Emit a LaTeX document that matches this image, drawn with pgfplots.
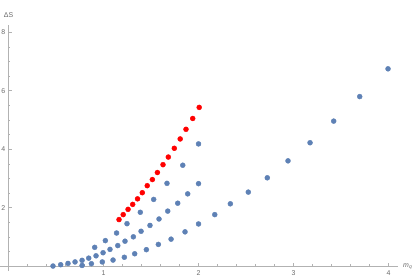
\documentclass[border=0pt]{standalone}
\usepackage{fontspec}
\setmainfont{Liberation Sans}
\usepackage{pgfplots}
\pgfplotsset{compat=1.18}
\definecolor{mblue}{rgb}{0.368417,0.506779,0.709798}
\definecolor{axgray}{gray}{0.70}
\definecolor{lblgray}{gray}{0.42}
\begin{document}
\begin{tikzpicture}
\begin{axis}[
  width=398bp, height=246bp, scale only axis,
  xmin=-0.09, xmax=4.10, ymin=-0.17, ymax=8.25,
  axis lines=middle,
  axis line style={axgray, line width=0.6pt, -},
  xtick={1,2,3,4}, ytick={2,4,6,8},
  minor xtick={0.2,0.4,0.6,0.8,1.2,1.4,1.6,1.8,2.2,2.4,2.6,2.8,3.2,3.4,3.6,3.8},
  minor ytick={0.5,1,1.5,2.5,3,3.5,4.5,5,5.5,6.5,7,7.5},
  tick align=inside,
  major tick length=3bp, minor tick length=1.8bp,
  every tick/.style={axgray, line width=0.5pt},
  /pgf/number format/assume math mode=true,
  ticklabel style={font=\fontsize{7}{8}\selectfont, text=lblgray},
  xticklabel style={anchor=north, inner sep=0pt, yshift=-4bp},
  yticklabel style={anchor=east, inner sep=0pt, xshift=-3bp},
  clip=false,
  every axis plot/.append style={only marks, mark=*},
]
% steep blue branch
\addplot[mblue, mark options={fill=mblue, draw=mblue}, mark size=2.5pt] coordinates {
(0.907,0.64) (1.019,0.87) (1.137,1.13) (1.247,1.45) (1.387,1.84)
(1.528,2.28) (1.668,2.83) (1.834,3.45) (2.0,4.18)
};
% middle blue branch
\addplot[mblue, mark options={fill=mblue, draw=mblue}, mark size=2.5pt] coordinates {
(0.468,0.00) (0.549,0.045) (0.626,0.09) (0.700,0.14) (0.774,0.195)
(0.844,0.27) (0.921,0.35) (0.995,0.455) (1.068,0.57) (1.150,0.70)
(1.226,0.85) (1.314,1.00) (1.395,1.19) (1.489,1.39) (1.584,1.61)
(1.676,1.88) (1.781,2.15) (1.886,2.47) (2.0,2.82)
};
% low blue branch
\addplot[mblue, mark options={fill=mblue, draw=mblue}, mark size=2.5pt] coordinates {
(0.774,0.02) (0.872,0.08) (0.987,0.14) (1.100,0.205) (1.219,0.30)
(1.328,0.42) (1.451,0.56) (1.577,0.74) (1.711,0.92) (1.858,1.17)
(2.0,1.44) (2.171,1.76) (2.335,2.13) (2.524,2.53) (2.724,3.02)
(2.942,3.60) (3.174,4.22) (3.423,4.96) (3.697,5.80) (3.995,6.75)
};
% red series
\addplot[red, mark options={fill=red, draw=red}, mark size=2.5pt] coordinates {
(1.163,1.59) (1.207,1.76) (1.258,1.94) (1.307,2.11) (1.358,2.30)
(1.408,2.51) (1.460,2.75) (1.514,2.96) (1.567,3.20) (1.626,3.47)
(1.682,3.73) (1.745,4.03) (1.807,4.35) (1.868,4.68) (1.939,5.05)
(2.007,5.43)
};
\node[anchor=base west, inner sep=0pt, text=lblgray, font=\fontsize{7}{8}\selectfont, xshift=5bp, yshift=-1.5bp] at (axis cs:4.10,0) {\textit{m}\textsubscript{\textit{q}}};
\node[anchor=base, inner sep=0pt, text=lblgray, font=\fontsize{7}{8}\selectfont, yshift=7bp] at (axis cs:0,8.25) {ΔS};
\end{axis}
\pgfresetboundingbox
\useasboundingbox ([shift={(0bp,-8bp)}]current axis.south west) rectangle ([shift={(17bp,25bp)}]current axis.north east);
\end{tikzpicture}
\end{document}
